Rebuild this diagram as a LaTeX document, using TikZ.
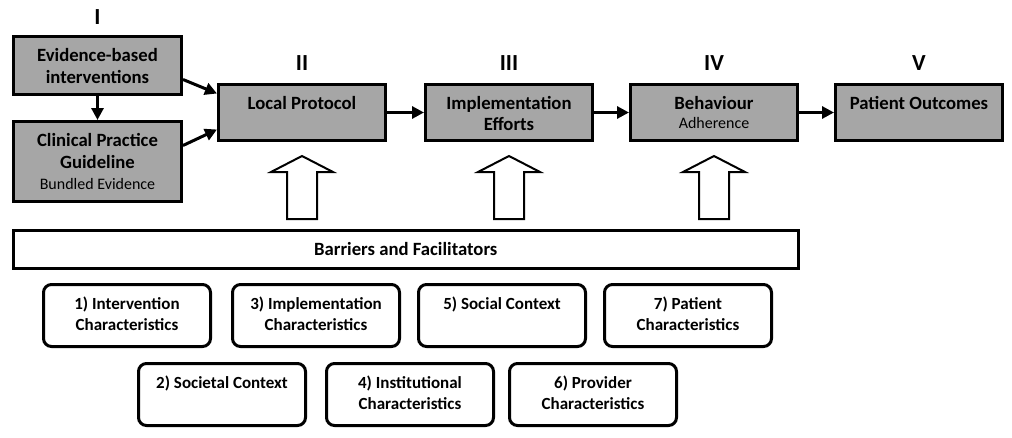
\documentclass[tikz,border=0pt]{standalone}
\usepackage{fontspec}
\setmainfont{Carlito}
\usetikzlibrary{arrows.meta,positioning}
\definecolor{boxgray}{HTML}{A6A6A6}
\begin{document}
\begin{tikzpicture}[x=1pt, y=-1pt, line width=3pt,
  gray box/.style={draw, fill=boxgray, anchor=north west, inner sep=0pt, minimum width=167pt, align=center, font=\bfseries\fontsize{18.7}{22}\selectfont},
  factor box/.style={draw, rounded corners=8pt, anchor=north west, inner sep=0pt, minimum width=167pt, align=center, font=\bfseries\fontsize{17}{21}\selectfont},
  one line/.style={text height=25pt, text depth=37pt},
  two lines/.style={text height=46pt, text depth=16pt},
  numeral/.style={font=\bfseries\fontsize{23}{23}\selectfont, inner sep=0pt},
  flow/.style={-{Triangle[length=12pt,width=12pt]}, line width=3pt},
  hollow/.style={draw, line width=2pt, fill=white, line join=miter}]
\useasboundingbox (0,0) rectangle (1012,437);
% stages
\node[gray box, minimum width=168pt, text height=47pt, text depth=11pt] (evid) at (12,35) {Evidence-based\\interventions};
\node[gray box, minimum width=168pt, text height=68pt, text depth=12pt] (cpg) at (12,120) {Clinical Practice\\Guideline\\[-1pt]{\mdseries\fontsize{16}{18}\selectfont Bundled Evidence}};
\node[gray box, text height=25pt, text depth=31pt] (local) at (217,83) {Local Protocol};
\node[gray box, text height=46pt, text depth=10pt] (impl) at (424,83) {Implementation\\[-1pt]Efforts};
\node[gray box, text height=44pt, text depth=12pt] (behav) at (629,83) {Behaviour\\[-3pt]{\mdseries\fontsize{16}{18}\selectfont Adherence}};
\node[gray box, text height=25pt, text depth=31pt] (outcome) at (834,83) {Patient Outcomes};
% numerals
\node[numeral, above=9pt of evid] (n1) {I};
\node[numeral, above=11pt of local] (n2) {II};
\node[numeral, above=11pt of impl] (n3) {III};
\node[numeral, above=11pt of behav] (n4) {IV};
\node[numeral, above=11pt of outcome] (n5) {V};
% barriers
\node[draw, line width=2.5pt, anchor=north west, minimum width=785pt, minimum height=38pt, font=\bfseries\fontsize{18.7}{22}\selectfont] (barrier) at (12,229) {Barriers and Facilitators};
\node[factor box, two lines] (c1) at (42,283) {1) Intervention\\Characteristics};
\node[factor box, two lines] (c3) at (231,283) {3) Implementation\\Characteristics};
\node[factor box, one line] (c5) at (417,283) {5) Social Context};
\node[factor box, two lines] (c7) at (603,283) {7) Patient\\Characteristics};
\node[factor box, one line] (c2) at (137,362) {2) Societal Context};
\node[factor box, two lines] (c4) at (325,362) {4) Institutional\\Characteristics};
\node[factor box, two lines] (c6) at (508,362) {6) Provider\\Characteristics};
% connectors
\draw[flow] (evid) -- (cpg);
\draw[flow] ([yshift=-14pt]evid.east) -- ([yshift=19pt]local.west);
\draw[flow] ([yshift=16pt]cpg.east) -- ([yshift=-17pt]local.west);
\draw[flow] (local) -- (impl);
\draw[flow] (impl) -- (behav);
\draw[flow] (behav) -- (outcome);
\foreach \n in {local,impl,behav}
  \draw[hollow] ([yshift=-14pt]\n.south) -- ++(31,16) -- ++(-16,0) -- ++(0,47) -- ++(-30,0) -- ++(0,-47) -- ++(-16,0) -- cycle;
\end{tikzpicture}
\end{document}
